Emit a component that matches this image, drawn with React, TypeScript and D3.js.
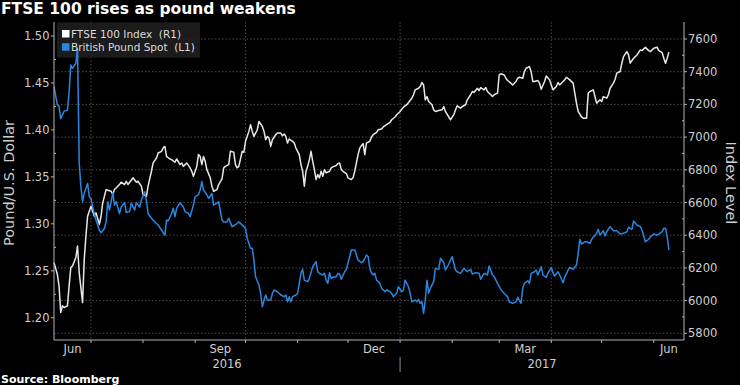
import React from "react";
import * as d3 from "d3";

const W = 740;
const H = 385;
const FONT = "'DejaVu Sans', sans-serif";

const title = "FTSE 100 rises as pound weakens";
const sourceText = "Source: Bloomberg";
const leftAxisTitle = "Pound/U.S. Dollar";
const rightAxisTitle = "Index Level";
const legendLabels = ["FTSE 100 Index  (R1)", "British Pound Spot  (L1)"];

const leftTicks = [1.2, 1.25, 1.3, 1.35, 1.4, 1.45, 1.5];
const rightTicks = [5800, 6000, 6200, 6400, 6600, 6800, 7000, 7200, 7400, 7600];
const monthLabelMonths = ["2016-06-01", "2016-09-01", "2016-12-01", "2017-03-01", "2017-06-01"];
const monthLabelTexts = ["Jun", "Sep", "Dec", "Mar", "Jun"];
const yearLabels = ["2016", "2017"];

const gbpDates = [
  "2016-06-09","2016-06-11","2016-06-12","2016-06-13","2016-06-15","2016-06-17","2016-06-18","2016-06-19","2016-06-20","2016-06-22",
  "2016-06-23","2016-06-24","2016-06-25","2016-06-26","2016-06-27","2016-06-29","2016-06-30","2016-07-01","2016-07-02","2016-07-03",
  "2016-07-04","2016-07-06","2016-07-07","2016-07-09","2016-07-10","2016-07-11","2016-07-12","2016-07-14","2016-07-15","2016-07-16",
  "2016-07-18","2016-07-19","2016-07-21","2016-07-22","2016-07-24","2016-07-25","2016-07-27","2016-07-28","2016-07-30","2016-07-31",
  "2016-08-02","2016-08-03","2016-08-04","2016-08-06","2016-08-08","2016-08-10","2016-08-12","2016-08-14","2016-08-15","2016-08-16",
  "2016-08-18","2016-08-19","2016-08-20","2016-08-21","2016-08-23","2016-08-25","2016-08-26","2016-08-28","2016-08-29","2016-08-31",
  "2016-09-01","2016-09-03","2016-09-04","2016-09-05","2016-09-06","2016-09-08","2016-09-09","2016-09-11","2016-09-12","2016-09-14",
  "2016-09-15","2016-09-17","2016-09-18","2016-09-20","2016-09-21","2016-09-23","2016-09-25","2016-09-27","2016-09-28","2016-09-30",
  "2016-10-01","2016-10-02","2016-10-04","2016-10-05","2016-10-06","2016-10-07","2016-10-09","2016-10-10","2016-10-11","2016-10-12",
  "2016-10-13","2016-10-14","2016-10-16","2016-10-17","2016-10-18","2016-10-20","2016-10-21","2016-10-22","2016-10-24","2016-10-25",
  "2016-10-26","2016-10-27","2016-10-28","2016-10-29","2016-10-31","2016-11-01","2016-11-02","2016-11-03","2016-11-04","2016-11-05",
  "2016-11-07","2016-11-08","2016-11-10","2016-11-12","2016-11-13","2016-11-14","2016-11-16","2016-11-17","2016-11-18","2016-11-19",
  "2016-11-20","2016-11-21","2016-11-23","2016-11-24","2016-11-25","2016-11-26","2016-11-27","2016-11-29","2016-11-30","2016-12-02",
  "2016-12-03","2016-12-05","2016-12-06","2016-12-07","2016-12-09","2016-12-10","2016-12-12","2016-12-13","2016-12-14","2016-12-15",
  "2016-12-16","2016-12-17","2016-12-18","2016-12-20","2016-12-21","2016-12-23","2016-12-24","2016-12-26","2016-12-27","2016-12-28",
  "2016-12-30","2016-12-31","2017-01-02","2017-01-03","2017-01-04","2017-01-06","2017-01-07","2017-01-08","2017-01-10","2017-01-11",
  "2017-01-12","2017-01-13","2017-01-14","2017-01-15","2017-01-16","2017-01-17","2017-01-18","2017-01-19","2017-01-21","2017-01-22",
  "2017-01-24","2017-01-25","2017-01-27","2017-01-28","2017-01-30","2017-02-01","2017-02-03","2017-02-04","2017-02-06","2017-02-08",
  "2017-02-10","2017-02-12","2017-02-13","2017-02-15","2017-02-17","2017-02-18","2017-02-20","2017-02-22","2017-02-23","2017-02-25",
  "2017-02-26","2017-02-28","2017-03-02","2017-03-03","2017-03-06","2017-03-07","2017-03-09","2017-03-11","2017-03-12","2017-03-14",
  "2017-03-15","2017-03-16","2017-03-18","2017-03-19","2017-03-20","2017-03-22","2017-03-23","2017-03-24","2017-03-26","2017-03-27",
  "2017-03-29","2017-03-30","2017-04-01","2017-04-02","2017-04-03","2017-04-05","2017-04-06","2017-04-08","2017-04-09","2017-04-11",
  "2017-04-12","2017-04-14","2017-04-16","2017-04-17","2017-04-18","2017-04-19","2017-04-21","2017-04-22","2017-04-24","2017-04-25",
  "2017-04-26","2017-04-28","2017-04-29","2017-04-30","2017-05-02","2017-05-03","2017-05-04","2017-05-06","2017-05-08","2017-05-10",
  "2017-05-12","2017-05-14","2017-05-16","2017-05-17","2017-05-19","2017-05-20","2017-05-22","2017-05-24","2017-05-25","2017-05-27",
  "2017-05-29","2017-05-30","2017-06-01","2017-06-03","2017-06-04","2017-06-06","2017-06-07","2017-06-08","2017-06-09","2017-06-10"
];
const gbpValues = [
  1.446,1.4265,1.425,1.412,1.42,1.421,1.441,1.469,1.4656,1.471,
  1.487,1.365,1.3395,1.3236,1.3325,1.343,1.329,1.327,1.318,1.311,
  1.304,1.2934,1.2905,1.295,1.302,1.3235,1.3147,1.333,1.32,1.3235,
  1.311,1.318,1.3225,1.312,1.313,1.322,1.3147,1.3225,1.318,1.3253,
  1.334,1.325,1.311,1.306,1.302,1.2987,1.2934,1.288,1.304,1.3033,
  1.311,1.3165,1.3076,1.3165,1.3225,1.318,1.313,1.311,1.3076,1.32,
  1.329,1.331,1.336,1.345,1.336,1.331,1.327,1.3325,1.32,1.322,
  1.3235,1.304,1.302,1.302,1.306,1.297,1.299,1.302,1.3005,1.297,
  1.2952,1.2845,1.274,1.274,1.2614,1.2437,1.2348,1.226,1.2117,1.2188,
  1.2242,1.2188,1.2188,1.226,1.2295,1.2277,1.226,1.2242,1.2224,1.2242,
  1.217,1.2224,1.217,1.2224,1.2242,1.226,1.2366,1.2473,1.2515,1.24,
  1.2384,1.242,1.2543,1.2597,1.249,1.2473,1.2455,1.2473,1.24,1.2366,
  1.248,1.242,1.2437,1.2437,1.2473,1.2465,1.241,1.249,1.2515,1.265,
  1.2721,1.2721,1.2668,1.2614,1.2586,1.2597,1.2668,1.265,1.2526,1.2473,
  1.2455,1.2473,1.24,1.2366,1.2313,1.2277,1.2295,1.2277,1.226,1.2224,
  1.226,1.233,1.2277,1.2295,1.24,1.233,1.226,1.217,1.2188,1.217,
  1.2196,1.2153,1.217,1.2047,1.2188,1.24,1.226,1.2313,1.2384,1.2526,
  1.2515,1.2633,1.2586,1.2508,1.2572,1.265,1.2508,1.249,1.2473,1.2526,
  1.249,1.2515,1.2465,1.248,1.2473,1.241,1.2473,1.2455,1.2551,1.2455,
  1.2437,1.2366,1.2302,1.2277,1.2224,1.217,1.2153,1.217,1.2217,1.2153,
  1.2313,1.2366,1.2394,1.2366,1.2473,1.249,1.2508,1.2455,1.2543,1.2455,
  1.243,1.2473,1.2537,1.248,1.2444,1.249,1.2455,1.2373,1.243,1.2508,
  1.2537,1.2515,1.2561,1.2686,1.2835,1.2785,1.2809,1.2809,1.2792,1.2835,
  1.2856,1.2899,1.2941,1.288,1.2927,1.287,1.2916,1.297,1.2927,1.2927,
  1.2891,1.2899,1.2916,1.2963,1.2941,1.303,1.2987,1.297,1.2934,1.281,
  1.2835,1.2863,1.2891,1.288,1.2891,1.2916,1.2952,1.2952,1.2863,1.2721
];

const ftseDates = [
  "2016-06-09","2016-06-11","2016-06-12","2016-06-13","2016-06-14","2016-06-15","2016-06-17","2016-06-18","2016-06-19","2016-06-20",
  "2016-06-22","2016-06-23","2016-06-24","2016-06-26","2016-06-27","2016-06-28","2016-06-29","2016-07-01","2016-07-02","2016-07-03",
  "2016-07-04","2016-07-06","2016-07-07","2016-07-08","2016-07-10","2016-07-11","2016-07-13","2016-07-14","2016-07-15","2016-07-17",
  "2016-07-18","2016-07-19","2016-07-21","2016-07-22","2016-07-23","2016-07-25","2016-07-26","2016-07-28","2016-07-29","2016-07-31",
  "2016-08-01","2016-08-03","2016-08-04","2016-08-06","2016-08-07","2016-08-09","2016-08-10","2016-08-12","2016-08-13","2016-08-14",
  "2016-08-15","2016-08-17","2016-08-18","2016-08-20","2016-08-21","2016-08-23","2016-08-24","2016-08-25","2016-08-27","2016-08-29",
  "2016-08-30","2016-08-31","2016-09-02","2016-09-03","2016-09-04","2016-09-05","2016-09-06","2016-09-07","2016-09-08","2016-09-10",
  "2016-09-11","2016-09-12","2016-09-14","2016-09-15","2016-09-17","2016-09-18","2016-09-19","2016-09-21","2016-09-22","2016-09-24",
  "2016-09-25","2016-09-26","2016-09-27","2016-09-29","2016-09-30","2016-10-01","2016-10-03","2016-10-04","2016-10-05","2016-10-06",
  "2016-10-08","2016-10-09","2016-10-11","2016-10-12","2016-10-13","2016-10-14","2016-10-15","2016-10-16","2016-10-17","2016-10-19",
  "2016-10-20","2016-10-22","2016-10-23","2016-10-24","2016-10-25","2016-10-26","2016-10-27","2016-10-29","2016-10-30","2016-10-31",
  "2016-11-02","2016-11-03","2016-11-04","2016-11-05","2016-11-06","2016-11-07","2016-11-08","2016-11-09","2016-11-10","2016-11-11",
  "2016-11-12","2016-11-13","2016-11-14","2016-11-15","2016-11-16","2016-11-17","2016-11-18","2016-11-20","2016-11-21","2016-11-22",
  "2016-11-24","2016-11-25","2016-11-26","2016-11-27","2016-11-28","2016-11-30","2016-12-01","2016-12-03","2016-12-04","2016-12-05",
  "2016-12-07","2016-12-08","2016-12-09","2016-12-10","2016-12-11","2016-12-12","2016-12-14","2016-12-15","2016-12-16","2016-12-18",
  "2016-12-19","2016-12-21","2016-12-22","2016-12-24","2016-12-26","2016-12-27","2016-12-29","2016-12-30","2017-01-01","2017-01-02",
  "2017-01-03","2017-01-05","2017-01-06","2017-01-08","2017-01-09","2017-01-10","2017-01-12","2017-01-13","2017-01-14","2017-01-15",
  "2017-01-16","2017-01-17","2017-01-18","2017-01-20","2017-01-21","2017-01-22","2017-01-24","2017-01-26","2017-01-27","2017-01-28",
  "2017-01-30","2017-01-31","2017-02-02","2017-02-03","2017-02-04","2017-02-06","2017-02-07","2017-02-09","2017-02-10","2017-02-12",
  "2017-02-13","2017-02-14","2017-02-16","2017-02-17","2017-02-18","2017-02-20","2017-02-21","2017-02-22","2017-02-24","2017-02-25",
  "2017-02-26","2017-02-28","2017-03-01","2017-03-02","2017-03-04","2017-03-05","2017-03-06","2017-03-08","2017-03-09","2017-03-11",
  "2017-03-12","2017-03-13","2017-03-15","2017-03-16","2017-03-17","2017-03-19","2017-03-20","2017-03-21","2017-03-22","2017-03-24",
  "2017-03-25","2017-03-26","2017-03-28","2017-03-29","2017-03-31","2017-04-01","2017-04-02","2017-04-04","2017-04-05","2017-04-06",
  "2017-04-08","2017-04-09","2017-04-10","2017-04-12","2017-04-14","2017-04-15","2017-04-16","2017-04-17","2017-04-19","2017-04-20",
  "2017-04-22","2017-04-23","2017-04-24","2017-04-26","2017-04-27","2017-04-28","2017-04-30","2017-05-01","2017-05-02","2017-05-04",
  "2017-05-05","2017-05-06","2017-05-08","2017-05-09","2017-05-10","2017-05-12","2017-05-13","2017-05-14","2017-05-16","2017-05-17",
  "2017-05-18","2017-05-20","2017-05-21","2017-05-22","2017-05-24","2017-05-25","2017-05-27","2017-05-29","2017-05-30","2017-06-01",
  "2017-06-03","2017-06-04","2017-06-06","2017-06-07","2017-06-08","2017-06-09","2017-06-10"
];
const ftseValues = [
  6232,6161,6090,5927,5968,5958,5968,6090,6202,6212,
  6263,6334,6171,5988,6252,6394,6516,6577,6547,6516,
  6537,6466,6516,6598,6679,6675,6669,6649,6679,6700,
  6710,6724,6710,6730,6710,6736,6751,6724,6730,6700,
  6649,6638,6700,6791,6842,6872,6903,6913,6934,6943,
  6882,6866,6862,6846,6866,6832,6842,6821,6842,6812,
  6791,6760,6821,6893,6882,6832,6882,6852,6801,6751,
  6700,6669,6679,6710,6744,6812,6821,6832,6913,6908,
  6832,6812,6821,6913,6907,6974,7035,7076,7035,7004,
  7045,7096,7065,7035,6984,7004,6994,6943,6984,7015,
  7025,7025,7008,7019,7004,6964,6988,6974,6964,6933,
  6893,6832,6791,6700,6791,6821,6862,6913,6852,6801,
  6740,6771,6751,6791,6760,6801,6781,6791,6812,6818,
  6826,6838,6842,6801,6791,6777,6751,6740,6751,6791,
  6893,6933,6948,6960,6893,6964,6974,7001,7015,7029,
  7045,7049,7062,7076,7090,7106,7123,7137,7157,7171,
  7183,7198,7212,7238,7259,7289,7299,7309,7334,7319,
  7228,7248,7218,7198,7167,7157,7163,7167,7187,7157,
  7123,7106,7137,7167,7191,7177,7187,7198,7228,7259,
  7279,7273,7299,7285,7303,7289,7303,7279,7259,7248,
  7259,7269,7380,7387,7380,7360,7346,7330,7319,7340,
  7360,7366,7360,7401,7421,7431,7401,7340,7340,7346,
  7330,7293,7340,7374,7350,7319,7289,7309,7334,7319,
  7340,7350,7366,7350,7330,7269,7208,7157,7123,7116,
  7116,7269,7279,7289,7248,7208,7228,7218,7248,7238,
  7259,7299,7330,7354,7391,7401,7452,7492,7523,7502,
  7452,7482,7492,7502,7533,7529,7549,7529,7523,7543,
  7549,7529,7516,7482,7452,7482,7520
];

const PLOT = { left: 54, right: 684, top: 22, bottom: 340 };
const X_DOMAIN = ["2016-06-09", "2017-06-19"];

const GRID = "#4a4a4a";
const AXIS = "#b4b4b4";
const TEXT = "#cfcfcf";
const WHITE_LINE = "#e8e8e8";
const BLUE_LINE = "#2a86de";

export default function App() {
  const parse = (s: string) => new Date(s + "T00:00:00Z");
  const x = d3
    .scaleUtc()
    .domain([parse(X_DOMAIN[0]), parse(X_DOMAIN[1])])
    .range([PLOT.left, PLOT.right]);
  const yL = d3.scaleLinear().domain([1.1763, 1.5149]).range([PLOT.bottom, PLOT.top]);
  const yR = d3.scaleLinear().domain([5759, 7704]).range([PLOT.bottom, PLOT.top]);

  const gbp = gbpDates.map((d, i) => ({ date: parse(d), v: gbpValues[i] }));
  const ftse = ftseDates.map((d, i) => ({ date: parse(d), v: ftseValues[i] }));

  const lineL = d3
    .line<{ date: Date; v: number }>()
    .x((d) => x(d.date))
    .y((d) => yL(d.v));
  const lineR = d3
    .line<{ date: Date; v: number }>()
    .x((d) => x(d.date))
    .y((d) => yR(d.v));

  const [d0, d1] = x.domain();
  const months = d3.utcMonth.range(d3.utcMonth.ceil(d0), d1);
  const quarterStarts = months.filter((m) => m.getUTCMonth() % 3 === 0);

  const monthLabelPos = monthLabelMonths.map((s) => {
    const m = parse(s);
    const next = d3.utcMonth.offset(m, 1);
    const a = Math.max(+m, +d0);
    const b = Math.min(+next, +d1);
    return (x(new Date(a)) + x(new Date(b))) / 2;
  });

  const yearBoundary = x(parse("2017-01-01"));
  const yearPos = [(PLOT.left + yearBoundary) / 2, (yearBoundary + PLOT.right) / 2];

  const leftMinor = d3.range(1.2, 1.51, 0.025).filter((v, i) => i % 2 === 1);
  const rightMinor = d3.range(5800, 7700, 100).filter((v) => v % 200 !== 0);

  return (
    <div style={{ position: "fixed", left: 0, top: 0, width: W, height: H, background: "#000" }}>
      <svg width={W} height={H} style={{ display: "block" }} fontFamily={FONT}>
        <rect x={0} y={0} width={W} height={H} fill="#000" />

        {/* title */}
        <text x={1} y={14} fill="#fff" fontSize={15.5} fontWeight="bold">
          {title}
        </text>

        {/* horizontal grid (right axis) */}
        {rightTicks.map((t) => (
          <line
            key={"hg" + t}
            x1={PLOT.left}
            x2={PLOT.right}
            y1={yR(t)}
            y2={yR(t)}
            stroke={GRID}
            strokeDasharray="1.5,2"
          />
        ))}
        {/* vertical grid at quarter starts */}
        {quarterStarts.map((m) => (
          <line
            key={"vg" + +m}
            x1={x(m)}
            x2={x(m)}
            y1={PLOT.top}
            y2={PLOT.bottom}
            stroke={GRID}
            strokeDasharray="1.5,2"
          />
        ))}

        {/* legend box */}
        <rect x={57} y={22.5} width={143} height={35} fill="#202020" opacity={0.85} />

        {/* lines */}
        <path d={lineR(ftse) || ""} fill="none" stroke={WHITE_LINE} strokeWidth={1.5} strokeLinejoin="round" />
        <path d={lineL(gbp) || ""} fill="none" stroke={BLUE_LINE} strokeWidth={1.5} strokeLinejoin="round" />

        {/* legend */}
        <rect x={62} y={30} width={7.5} height={7.5} fill="#fff" />
        <text x={71} y={37.8} fill="#dcdcdc" fontSize={10.5} style={{ whiteSpace: "pre" }}>
          {legendLabels[0]}
        </text>
        <rect x={62} y={43.2} width={7.5} height={7.5} fill={BLUE_LINE} />
        <text x={71} y={51} fill="#dcdcdc" fontSize={10.5} style={{ whiteSpace: "pre" }}>
          {legendLabels[1]}
        </text>

        {/* axes lines */}
        <line x1={PLOT.left} x2={PLOT.left} y1={PLOT.top} y2={PLOT.bottom} stroke={AXIS} />
        <line x1={PLOT.right} x2={PLOT.right} y1={PLOT.top} y2={PLOT.bottom} stroke={AXIS} />
        <line x1={PLOT.left} x2={PLOT.right} y1={PLOT.bottom} y2={PLOT.bottom} stroke={AXIS} />

        {/* left ticks */}
        {leftTicks.map((t) => (
          <g key={"lt" + t}>
            <line x1={PLOT.left - 3} x2={PLOT.left} y1={yL(t)} y2={yL(t)} stroke={AXIS} />
            <text x={PLOT.left - 4.5} y={yL(t)} dy="0.35em" textAnchor="end" fill={TEXT} fontSize={11.5}>
              {t.toFixed(2)}
            </text>
          </g>
        ))}
        {leftMinor.map((t) => (
          <line key={"lm" + t} x1={PLOT.left} x2={PLOT.left + 2} y1={yL(t)} y2={yL(t)} stroke={AXIS} />
        ))}

        {/* right ticks */}
        {rightTicks.map((t) => (
          <g key={"rt" + t}>
            <line x1={PLOT.right} x2={PLOT.right + 3} y1={yR(t)} y2={yR(t)} stroke={AXIS} />
            <text x={PLOT.right + 4} y={yR(t)} dy="0.35em" textAnchor="start" fill={TEXT} fontSize={11.5}>
              {t}
            </text>
          </g>
        ))}
        {rightMinor.map((t) => (
          <line key={"rm" + t} x1={PLOT.right - 2} x2={PLOT.right} y1={yR(t)} y2={yR(t)} stroke={AXIS} />
        ))}

        {/* axis titles */}
        <text
          transform={`translate(14, 183) rotate(-90)`}
          textAnchor="middle"
          fill={TEXT}
          fontSize={14.5}
        >
          {leftAxisTitle}
        </text>
        <text
          transform={`translate(726, 183) rotate(90)`}
          textAnchor="middle"
          fill={TEXT}
          fontSize={14.5}
        >
          {rightAxisTitle}
        </text>

        {/* month ticks */}
        {months.map((m) => (
          <line key={"mt" + +m} x1={x(m)} x2={x(m)} y1={PLOT.bottom} y2={PLOT.bottom + 3} stroke={AXIS} />
        ))}
        {monthLabelTexts.map((s, i) => (
          <text key={"ml" + i} x={monthLabelPos[i]} y={353} textAnchor="middle" fill={TEXT} fontSize={11.5}>
            {s}
          </text>
        ))}
        {yearLabels.map((s, i) => (
          <text key={"yl" + s} x={yearPos[i]} y={368} textAnchor="middle" fill={TEXT} fontSize={11.5}>
            {s}
          </text>
        ))}
        <line x1={yearBoundary} x2={yearBoundary} y1={357} y2={372} stroke="#8a8a8a" />

        {/* source */}
        <text x={1} y={383} fill="#fff" fontSize={11} fontWeight="bold">
          {sourceText}
        </text>
      </svg>
    </div>
  );
}
